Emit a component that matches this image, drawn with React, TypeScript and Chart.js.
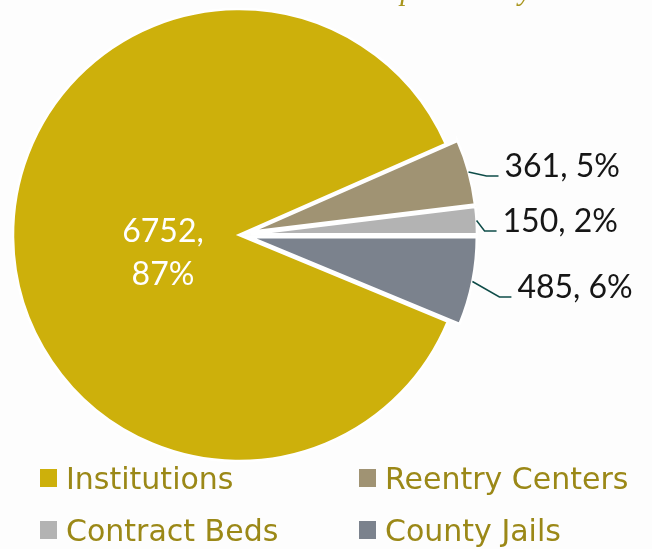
import React, { useEffect, useRef } from "react";
import { Chart, registerables } from "chart.js";

Chart.register(...registerables);

// ---- data ----
const categories = ["Institutions", "Reentry Centers", "Contract Beds", "County Jails"];
const counts = [6752, 361, 150, 485];
const percentLabels = ["87%", "5%", "2%", "6%"];
const sliceColors = ["#CDB00B", "#A09373", "#B3B3B3", "#7B828D"];
const explodedSlices = [false, true, true, true];
const titleText = "Population by Location";

// ---- layout ----
const W = 652;
const H = 549;
const PIE_RADIUS = 226;
const EXPLODE = 12;
const outerLabelShift: (number[] | null)[] = [null, [36, 5], [26, 11.5], [45, 16.5]];
const innerLabel = { dist: 76, dy: 16, lineGap: 43 };
const legendCols = [40, 359];
const legendRows = [489, 541];
const LEGEND_TEXT = "#9B8817";
const LABEL_FONT = "32px Lato, 'Noto Sans', sans-serif";

const explodePlugin = {
  id: "explodeSlices",
  afterDatasetUpdate(chart: any, args: any) {
    const meta = chart.getDatasetMeta(args.index);
    meta.data.forEach((arc: any, i: number) => {
      if (!explodedSlices[i]) return;
      const mid = (arc.startAngle + arc.endAngle) / 2;
      arc.x += Math.cos(mid) * EXPLODE;
      arc.y += Math.sin(mid) * EXPLODE;
    });
  },
};

const labelsPlugin = {
  id: "sliceLabels",
  afterDatasetsDraw(chart: any) {
    const ctx = chart.ctx;
    const meta = chart.getDatasetMeta(0);
    ctx.save();
    meta.data.forEach((arc: any, i: number) => {
      const { x, y, startAngle, endAngle, outerRadius } = arc;
      const mid = (startAngle + endAngle) / 2;
      if (!outerLabelShift[i]) {
        const cx = x + Math.cos(mid) * innerLabel.dist;
        const cy = y + Math.sin(mid) * innerLabel.dist + innerLabel.dy;
        ctx.fillStyle = "#FFFFFF";
        ctx.font = LABEL_FONT;
        ctx.textAlign = "center";
        ctx.textBaseline = "alphabetic";
        const b1 = cy - 10;
        ctx.fillText(counts[i] + ",", cx, b1);
        ctx.fillText(percentLabels[i], cx, b1 + innerLabel.lineGap);
        return;
      }
      const sh = outerLabelShift[i] as number[];
      const ex = x + Math.cos(mid) * outerRadius;
      const ey = y + Math.sin(mid) * outerRadius;
      const tx = ex + sh[0];
      const by = ey + sh[1];
      ctx.strokeStyle = "#0E4C48";
      ctx.lineWidth = 1.5;
      ctx.beginPath();
      ctx.moveTo(ex, ey);
      ctx.lineTo(tx - 18, by - 1);
      ctx.lineTo(tx - 6, by - 1);
      ctx.stroke();
      ctx.fillStyle = "#161616";
      ctx.font = LABEL_FONT;
      ctx.textAlign = "left";
      ctx.textBaseline = "alphabetic";
      ctx.fillText(counts[i] + ", " + percentLabels[i], tx, by);
    });
    ctx.restore();
  },
};

const legendTitlePlugin = {
  id: "legendTitle",
  afterDraw(chart: any) {
    const ctx = chart.ctx;
    ctx.save();
    const labels = chart.data.labels as string[];
    const colors = chart.data.datasets[0].backgroundColor as string[];
    labels.forEach((lab, i) => {
      const col = legendCols[i % 2];
      const row = legendRows[Math.floor(i / 2)];
      ctx.fillStyle = colors[i];
      ctx.fillRect(col, row - 20, 17, 18);
      ctx.fillStyle = LEGEND_TEXT;
      ctx.font = "30px 'DejaVu Sans', sans-serif";
      ctx.textAlign = "left";
      ctx.textBaseline = "alphabetic";
      ctx.fillText(lab, col + 26, row);
    });
    ctx.fillStyle = "#A8951C";
    ctx.font = "italic 29px 'Liberation Serif', serif";
    ctx.textAlign = "right";
    ctx.textBaseline = "alphabetic";
    ctx.fillText(titleText, 642, 0);
    ctx.restore();
  },
};

export default function App() {
  const ref = useRef<HTMLCanvasElement | null>(null);
  useEffect(() => {
    document.body.style.margin = "0";
    const canvas = ref.current;
    if (!canvas) return;
    const total = counts.reduce((a, b) => a + b, 0);
    const rotation = 90 + (counts[3] / total) * 360;
    const chart = new Chart(canvas, {
      type: "pie",
      data: {
        labels: categories,
        datasets: [
          {
            data: counts,
            backgroundColor: sliceColors,
            borderColor: "#FFFFFF",
            borderWidth: 2.5,
            borderJoinStyle: "miter",
          } as any,
        ],
      },
      options: {
        responsive: false,
        animation: false,
        devicePixelRatio: 1,
        events: [],
        rotation,
        radius: PIE_RADIUS,
        layout: { padding: { left: 0, right: W - 478, top: 0, bottom: H - 470 } },
        plugins: {
          legend: { display: false },
          tooltip: { enabled: false },
          title: { display: false },
        },
      } as any,
      plugins: [explodePlugin, labelsPlugin, legendTitlePlugin],
    });
    return () => chart.destroy();
  }, []);
  return (
    <div style={{ width: W, height: H, background: "#FDFDFD" }}>
      <canvas ref={ref} width={W} height={H} style={{ display: "block", width: W, height: H }} />
    </div>
  );
}
